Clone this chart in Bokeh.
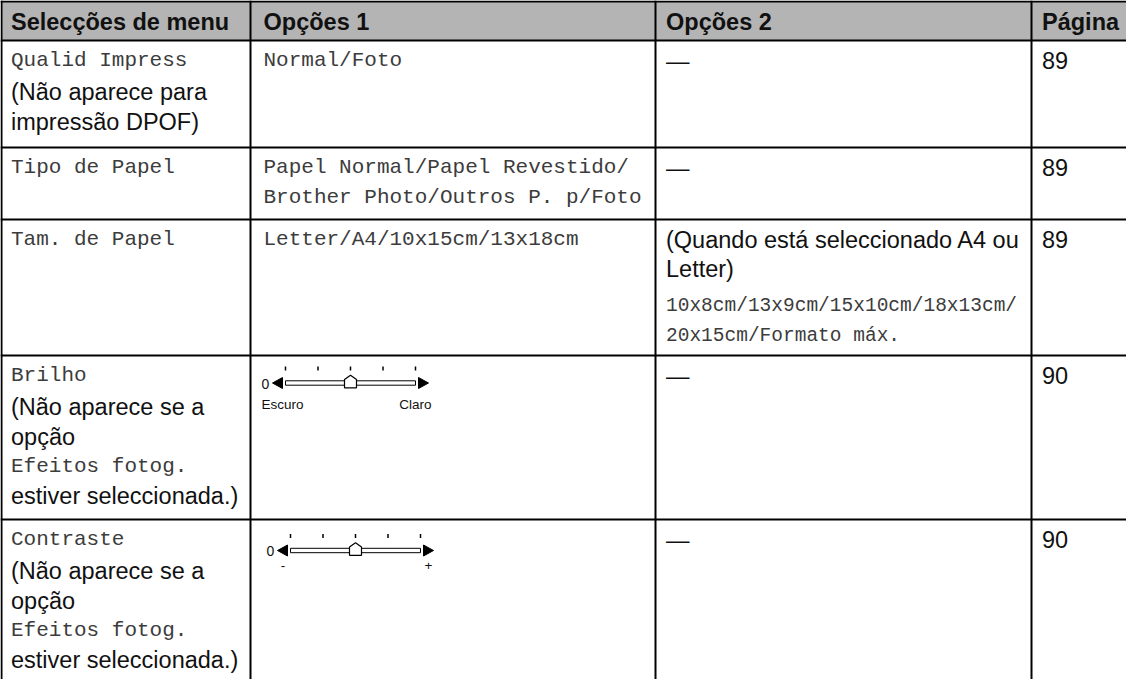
from bokeh.plotting import figure
from bokeh.models import Range1d, ColumnDataSource
from bokeh.core.properties import value
from bokeh.embed import file_html
from bokeh.resources import INLINE

# ---------------- data (table content) ----------------
headers = ["Selecções de menu", "Opções 1", "Opções 2", "Página"]
menu_items = ["Qualid Impress", "Tipo de Papel", "Tam. de Papel", "Brilho", "Contraste"]
menu_notes = [
    ["(Não aparece para", "impressão DPOF)"],
    [],
    [],
    ["(Não aparece se a", "opção", "Efeitos fotog.", "estiver seleccionada.)"],
    ["(Não aparece se a", "opção", "Efeitos fotog.", "estiver seleccionada.)"],
]
menu_notes_mono = [
    [False, False],
    [],
    [],
    [False, False, True, False],
    [False, False, True, False],
]
opcoes1 = [
    ["Normal/Foto"],
    ["Papel Normal/Papel Revestido/", "Brother Photo/Outros P. p/Foto"],
    ["Letter/A4/10x15cm/13x18cm"],
    [],
    [],
]
slider_zero = "0"
slider_ends = [None, None, None, ["Escuro", "Claro"], ["-", "+"]]
slider_steps = 5
slider_pos = [None, None, None, 3, 3]
opcoes2 = ["—", "—", "", "—", "—"]
opcoes2_note = [[], [], ["(Quando está seleccionado A4 ou", "Letter)"], [], []]
opcoes2_sizes = [[], [], ["10x8cm/13x9cm/15x10cm/18x13cm/", "20x15cm/Formato máx."], [], []]
paginas = ["89", "89", "89", "90", "90"]

# ---------------- layout ----------------
W, H = 1126, 679
col_x = [9, 258, 663, 1039, 1150]
text_x = [18.5, 271, 673.5, 1049.5]
row_y = [9, 48, 155, 227, 363, 527, 700]
FIRST = 20
STEP = 29.5
PARA = 2

SANS = "Liberation Sans"
MONO = "Liberation Mono"

p = figure(width=W, height=H, x_range=Range1d(8, 8 + W), y_range=Range1d(8 + H, 8),
           output_backend="svg", toolbar_location=None, min_border=0)
p.axis.visible = False
p.grid.visible = False
p.outline_line_color = None
p.background_fill_color = "white"
p.border_fill_color = "white"

# header background
p.quad(left=[col_x[0]], right=[col_x[-1]], top=[row_y[0]], bottom=[row_y[1]],
       fill_color="#b4b4b4", line_color=None)

groups = {}

def add(style, x, y, t, align="left"):
    groups.setdefault((style, align), {"x": [], "y": [], "text": []})
    g = groups[(style, align)]
    g["x"].append(x); g["y"].append(y); g["text"].append(t)

# headers
for i, h in enumerate(headers):
    add("bold", text_x[i], (row_y[0] + row_y[1]) / 2 + 1, h)

# rows
for r in range(len(menu_items)):
    top = row_y[r + 1]
    y = top + FIRST
    # column 1
    add("mono", text_x[0], y, menu_items[r])
    yy = y + STEP + PARA
    for t, m in zip(menu_notes[r], menu_notes_mono[r]):
        add("mono" if m else "sans", text_x[0], yy, t)
        yy += STEP
    # column 2
    yy = y
    for t in opcoes1[r]:
        add("mono", text_x[1], yy, t)
        yy += 30
    if slider_pos[r] is not None:
        bright = slider_ends[r][0] == "Escuro"
        x0 = text_x[1] + (-2 if bright else 3)
        yc = y + (7.5 if bright else 11)
        add("small0", x0, yc + 0.5, slider_zero)
        # end arrows
        p.patch([x0 + 11, x0 + 21, x0 + 21], [yc, yc - 5.5, yc + 5.5], color="black")
        t0, t1 = x0 + 24, x0 + 154
        p.patch([x0 + 157, x0 + 157, x0 + 167], [yc - 5.5, yc + 5.5, yc], color="black")
        # track (double line)
        p.quad(left=[t0], right=[t1], top=[yc - 2.2], bottom=[yc + 2.2],
               fill_color="white", line_color="black", line_width=1)
        step = (t1 - t0) / (slider_steps - 1)
        tx = [t0 + k * step for k in range(slider_steps)]
        p.segment(x0=tx, x1=tx, y0=[yc - 16.5] * slider_steps, y1=[yc - 12.5] * slider_steps,
                  line_color="black", line_width=1.5)
        cx = tx[slider_pos[r] - 1]
        p.patch([cx - 6, cx + 6, cx + 6, cx, cx - 6],
                [yc + 4.8, yc + 4.8, yc - 3.5, yc - 7.8, yc - 3.5],
                fill_color="white", line_color="black", line_width=1.2)
        lo, hi = slider_ends[r]
        if bright:
            add("small", x0, yc + 21, lo)
            add("small", x0 + 170, yc + 21, hi, align="right")
        else:
            add("small", x0 + 16.5, yc + 15, lo, align="center")
            add("small", x0 + 162, yc + 15, hi, align="center")
    # column 3
    yy = y
    if opcoes2[r]:
        add("sans", text_x[2], yy, opcoes2[r])
    for t in opcoes2_note[r]:
        add("sans", text_x[2], yy, t)
        yy += STEP
    yy += 7.5
    for t in opcoes2_sizes[r]:
        add("mono_s", text_x[2], yy, t)
        yy += 29.5
    # column 4
    add("sans", text_x[3], y, paginas[r])

styles = {
    "bold": dict(text_font=value(SANS), text_font_size="23.5px", text_font_style="bold", text_color="#111111"),
    "sans": dict(text_font=value(SANS), text_font_size="23.5px", text_color="#111111"),
    "mono": dict(text_font=value(MONO), text_font_size="21px", text_color="#3c3c3c"),
    "mono_s": dict(text_font=value(MONO), text_font_size="19.5px", text_color="#3c3c3c"),
    "small": dict(text_font=value(SANS), text_font_size="13.5px", text_color="#111111"),
    "small0": dict(text_font=value(SANS), text_font_size="14px", text_color="#111111"),
}
for (style, align), g in groups.items():
    p.text(x="x", y="y", text="text", source=ColumnDataSource(g),
           text_align=align, text_baseline="middle", **styles[style])

# table rules
nh = len(row_y) - 1
p.segment(x0=[col_x[0] - 1] * nh, x1=[col_x[-1]] * nh, y0=row_y[:-1], y1=row_y[:-1],
          line_color="black", line_width=2)
nv = len(col_x) - 1
p.segment(x0=col_x[:-1], x1=col_x[:-1], y0=[row_y[0] - 1] * nv, y1=[row_y[-1]] * nv,
          line_color="black", line_width=2)

open("out.html", "w").write(file_html(p, INLINE))
